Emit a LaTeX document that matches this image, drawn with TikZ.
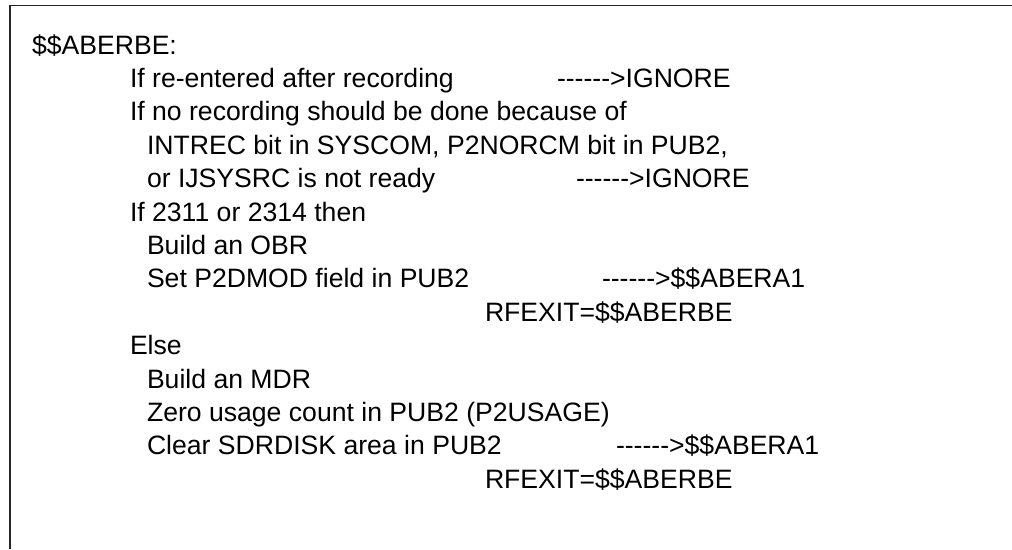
\documentclass[tikz,border=0pt]{standalone}
\usepackage{fontspec}
\setmainfont{Liberation Sans}
\newcommand{\arrowtxt}{-{}-{}-{}-{}-{}->}
\begin{document}
\begin{tikzpicture}[x=1pt,y=-1pt,
  txt/.style={anchor=base west,inner sep=0pt,outer sep=0pt,font=\fontsize{26.6pt}{32pt}\selectfont},
  frame/.style={line width=1.5pt,draw=black!85}]
\useasboundingbox (0,0) rectangle (1012,549);
\coordinate (tr) at (1012,5.5);
\coordinate (tl) at (10,5.5);
\coordinate (bl) at (10,549);
\draw[frame] (tr) -- (tl) -- (bl);
\def\ls{33.4}
\node[txt] (l0) at (32,54) {\$\$ABERBE:};
\node[txt] (l1) at (130,{54+1*\ls}) {If re-entered after recording};
\node[txt] (a1) at (557,{54+1*\ls}) {\arrowtxt IGNORE};
\node[txt] (l2) at (130,{54+2*\ls}) {If no recording should be done because of};
\node[txt] (l3) at (147,{54+3*\ls}) {INTREC bit in SYSCOM, P2NORCM bit in PUB2,};
\node[txt] (l4) at (147,{54+4*\ls}) {or IJSYSRC is not ready};
\node[txt] (a4) at (576,{54+4*\ls}) {\arrowtxt IGNORE};
\node[txt] (l5) at (130,{54+5*\ls}) {If 2311 or 2314 then};
\node[txt] (l6) at (147,{54+6*\ls}) {Build an OBR};
\node[txt] (l7) at (147,{54+7*\ls}) {Set P2DMOD field in PUB2};
\node[txt] (a7) at (602,{54+7*\ls}) {\arrowtxt\$\$ABERA1};
\node[txt] (l8) at (485,{54+8*\ls}) {RFEXIT=\$\$ABERBE};
\node[txt] (l9) at (130,{54+9*\ls}) {Else};
\node[txt] (l10) at (147,{54+10*\ls}) {Build an MDR};
\node[txt] (l11) at (147,{54+11*\ls}) {Zero usage count in PUB2 (P2USAGE)};
\node[txt] (l12) at (147,{54+12*\ls}) {Clear SDRDISK area in PUB2};
\node[txt] (a12) at (616,{54+12*\ls}) {\arrowtxt\$\$ABERA1};
\node[txt] (l13) at (485,{54+13*\ls}) {RFEXIT=\$\$ABERBE};
\end{tikzpicture}
\end{document}
